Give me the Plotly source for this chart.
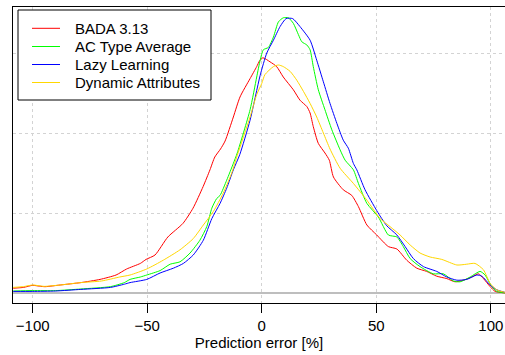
import plotly.graph_objects as go

# Prediction error [%] vs. density (arbitrary units: 1 unit = one horizontal grid step)
names = ["BADA 3.13", "AC Type Average", "Lazy Learning", "Dynamic Attributes"]
colors = ["#FF0000", "#00FF00", "#0000FF", "#FFD700"]

bada_x = [-108.5, -104, -100, -97, -94.6, -88, -79, -70.6, -63.6, -59, -53, -50.5, -46.6, -41, -34.4, -30,
          -25.6, -22.6, -20.5, -18, -16, -12.4, -9.5, -5.1, -2.2, -1, 0.5, 3.6, 6.5, 9.4, 13.8, 16.7, 19.7,
          21.1, 22.5, 24.7, 27.6, 29.5, 31.3, 35.6, 39.3, 42.2, 45.9, 50.2, 55.3, 59, 63.3, 67.7, 72, 76.4,
          80.8, 84.4, 88, 91.7, 94.6, 96.8, 99.7, 101.9, 106.5]
bada_y = [0.06, 0.07, 0.096, 0.085, 0.079, 0.10, 0.13, 0.17, 0.225, 0.30, 0.37, 0.42, 0.475, 0.70, 0.87, 1.06,
          1.33, 1.54, 1.70, 1.80, 1.90, 2.20, 2.45, 2.68, 2.83, 2.90, 2.94, 2.89, 2.83, 2.70, 2.54, 2.41, 2.33,
          2.25, 2.08, 1.87, 1.75, 1.66, 1.45, 1.29, 1.22, 1.08, 0.85, 0.725, 0.58, 0.55, 0.41, 0.31, 0.27, 0.21,
          0.18, 0.14, 0.16, 0.20, 0.24, 0.18, 0.08, 0.02, 0.0]

actype_x = [-108.5, -100, -90, -79, -66, -60, -57.5, -53, -50.2, -44.4, -40, -35.7, -31.3, -27, -24, -21.8,
            -19.7, -18.2, -15.3, -12.4, -10.7, -5.1, -2.2, -0.7, 0.7, 2.9, 5.1, 7.3, 9.4, 11.6, 13.8, 16, 17.5,
            19.7, 21.1, 22.5, 24.7, 27.6, 30.6, 34.2, 36.4, 40, 42.2, 45.9, 50.9, 55.3, 59, 61.8, 64.8, 69.1,
            74.9, 79.3, 83.7, 86.6, 91, 95.3, 97.5, 100.4, 102.6, 106.5]
actype_y = [0.025, 0.03, 0.03, 0.05, 0.08, 0.13, 0.17, 0.20, 0.225, 0.28, 0.36, 0.39, 0.50, 0.66, 0.83, 1.06,
            1.18, 1.22, 1.41, 1.62, 1.75, 2.29, 2.70, 2.91, 3.04, 3.07, 3.20, 3.39, 3.44, 3.44, 3.37, 3.23, 3.14,
            3.10, 3.04, 2.83, 2.54, 2.29, 2.04, 1.79, 1.66, 1.54, 1.37, 1.12, 0.95, 0.725, 0.70, 0.58, 0.43, 0.33,
            0.24, 0.24, 0.15, 0.14, 0.20, 0.27, 0.225, 0.08, 0.02, 0.0]

lazy_x = [-108.5, -100, -90, -79, -66, -60, -57.5, -50.2, -44.4, -38.6, -34.2, -29.9, -25.5, -21.8, -18.2,
          -15.3, -12.4, -9.6, -5.1, -0.7, 2.2, 5.1, 8, 10.6, 13.5, 16.7, 21.1, 24, 26.9, 29.8, 32.8, 35.6, 37.8,
          40, 41.5, 45.1, 50.2, 52.4, 54.6, 59, 62.6, 66.2, 70.6, 76.4, 80.8, 85.2, 89.5, 93.9, 96.1, 99.7,
          102.6, 106.5]
lazy_y = [0.02, 0.02, 0.025, 0.045, 0.07, 0.11, 0.13, 0.17, 0.25, 0.31, 0.37, 0.475, 0.66, 0.93, 1.12,
          1.31, 1.54, 1.73, 2.16, 2.72, 3.00, 3.16, 3.33, 3.43, 3.43, 3.33, 3.16, 2.91, 2.64, 2.37, 2.12, 1.91, 1.81,
          1.62, 1.54, 1.29, 1.03, 0.93, 0.84, 0.725, 0.58, 0.43, 0.33, 0.27, 0.20, 0.16, 0.17, 0.225, 0.21, 0.10,
          0.04, 0.005]

dynamic_x = [-108.5, -104, -100, -95, -88, -79, -70, -62, -57.5, -50.2, -43, -35.7, -29.9, -25.5, -21.1,
             -16.8, -13.1, -10.7, -5.1, -2.2, 0, 1.4, 5.1, 7.3, 9.4, 12.4, 15.3, 18.2, 21.1, 24, 26.9, 29.8,
             34.2, 40, 45.9, 51.7, 56, 60.4, 64.8, 69.1, 73.5, 78.6, 85.2, 89.5, 93.1, 96.8, 99.7, 102.6, 106.5]
dynamic_y = [0.07, 0.08, 0.10, 0.083, 0.10, 0.13, 0.15, 0.20, 0.225, 0.30, 0.41, 0.54, 0.68, 0.85, 1.02,
             1.25, 1.50, 1.72, 2.20, 2.48, 2.62, 2.73, 2.83, 2.85, 2.83, 2.77, 2.66, 2.52, 2.37, 2.20, 2.00, 1.80,
             1.56, 1.37, 1.16, 0.93, 0.83, 0.725, 0.60, 0.50, 0.45, 0.42, 0.35, 0.36, 0.37, 0.29, 0.12, 0.04, 0.005]

x_ticks = [-100, -50, 0, 50, 100]
x_title = "Prediction error [%]"

series = [(bada_x, bada_y), (actype_x, actype_y), (lazy_x, lazy_y), (dynamic_x, dynamic_y)]

W, H = 505, 355
ML, MR, MT, MB = 13, 0, 7, 52
PW, PH = W - ML - MR, H - MT - MB


def px_to_paper(px, py):
    return (px - ML) / PW, (H - MB - py) / PH


fig = go.Figure()
for (xs, ys), nm, col in zip(series, names, colors):
    fig.add_trace(go.Scatter(x=xs, y=ys, mode="lines", name=nm, showlegend=False,
                             line=dict(color=col, width=1, shape="spline", smoothing=0.6)))

FONT = "Liberation Sans, Arial, sans-serif"

# legend drawn as a boxed key (R-style spacing)
shapes = []
annotations = []
bx0, by0 = px_to_paper(18, 100)
bx1, by1 = px_to_paper(211, 10)
shapes.append(dict(type="rect", xref="paper", yref="paper", x0=bx0, y0=by0, x1=bx1, y1=by1,
                   line=dict(color="black", width=1), fillcolor="white", layer="above"))
row_y = [28.3, 46.5, 64.5, 82.5]
for nm, col, ry in zip(names, colors, row_y):
    lx0, ly = px_to_paper(32, ry)
    lx1, _ = px_to_paper(60, ry)
    shapes.append(dict(type="line", xref="paper", yref="paper", x0=lx0, x1=lx1, y0=ly, y1=ly,
                       line=dict(color=col, width=1), layer="above"))
    tx, ty = px_to_paper(73, ry)
    annotations.append(dict(xref="paper", yref="paper", x=tx, y=ty, xanchor="left", yanchor="middle",
                            text=nm, showarrow=False, font=dict(family=FONT, size=15, color="black")))

fig.update_layout(
    width=W, height=H,
    margin=dict(l=ML, r=MR, t=MT, b=MB),
    paper_bgcolor="white", plot_bgcolor="white",
    font=dict(family=FONT, size=15, color="black"),
    showlegend=False,
    shapes=shapes, annotations=annotations,
)
fig.update_xaxes(range=[-108.6, 106.2], tickmode="array", tickvals=x_ticks,
                 ticks="outside", ticklen=9, tickcolor="black", tickwidth=1,
                 showline=True, linecolor="black", linewidth=1, mirror=True,
                 showgrid=True, gridcolor="#d3d3d3", griddash="dot", gridwidth=1,
                 zeroline=False,
                 title=dict(text=x_title, standoff=2, font=dict(family=FONT, size=15)),
                 tickfont=dict(family=FONT, size=15))
fig.update_yaxes(range=[-0.125, 3.575], tickmode="array", tickvals=[1, 2, 3],
                 showticklabels=False, ticks="",
                 showline=True, linecolor="black", linewidth=1, mirror=False,
                 showgrid=True, gridcolor="#d3d3d3", griddash="dot", gridwidth=1,
                 zeroline=True, zerolinecolor="#bebebe", zerolinewidth=1.5)

fig.write_html("out.html")
